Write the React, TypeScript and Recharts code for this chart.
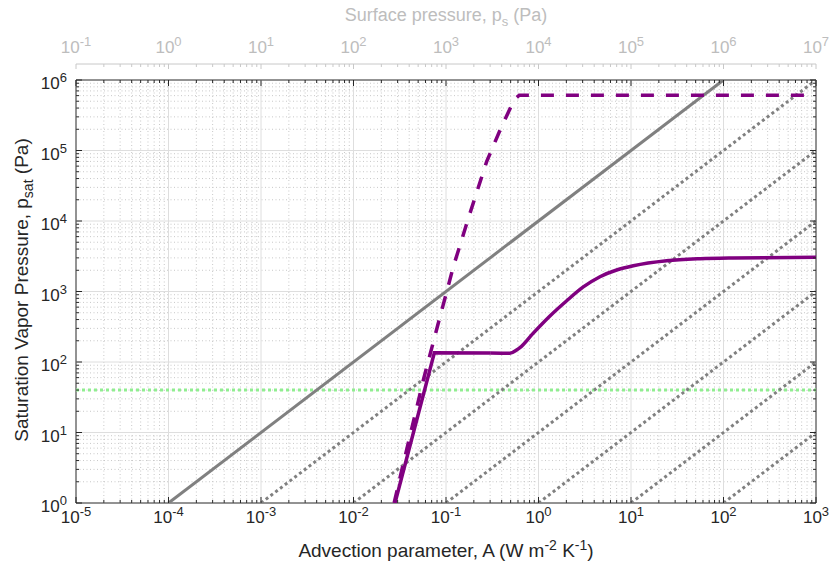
import React from 'react';
import { LineChart, Line, XAxis, YAxis, ReferenceLine, ReferenceArea } from 'recharts';

const FONT = '"Liberation Sans", Arial, Helvetica, sans-serif';
const INK = '#262626';
const PS_LINE = '#c8c8c8';
const PS_INK = '#bdbdbd';
const PURPLE = '#800080';
const GRAY = '#808080';

// plot box (px)
const W = 830;
const H = 564;
const PLOT_LEFT = 76;
const PLOT_TOP = 80;
const PLOT_RIGHT = 816;
const PLOT_BOTTOM = 503;
const LEFT_W = 60;
const RIGHT_W = 14;
const TOP_H = 50;
const BOTTOM_H = 40;
const PS_GAP = 16;

// axes
const majorA = [1e-5, 1e-4, 1e-3, 1e-2, 1e-1, 1, 10, 100, 1000];
const majorP = [1, 10, 100, 1000, 1e4, 1e5, 1e6];
const minorSteps = [2, 3, 4, 5, 6, 7, 8, 9];
const psShift = 4; // surface pressure axis = A * 10^4

// grey reference lines
const solidRefA = [1e-4, 1e2];
const solidRefP = [1, 1e6];
const dotted1A = [1e-3, 1e3];
const dotted1P = [1, 1e6];
const dotted2A = [1e-2, 1e3];
const dotted2P = [1, 1e5];
const dotted3A = [1e-1, 1e3];
const dotted3P = [1, 1e4];
const dotted4A = [1, 1e3];
const dotted4P = [1, 1e3];
const dotted5A = [10, 1e3];
const dotted5P = [1, 1e2];
const dotted6A = [100, 1e3];
const dotted6P = [1, 10];

// green threshold
const greenA = [1e-5, 1e3];
const greenP = [40, 40];

// purple solid: steep rise, then plateau + smooth climb
const steepA = [0.0281, 0.0748, 0.3];
const steepP = [1, 135, 134];
const climbA = [0.3, 0.49, 0.58, 0.63, 0.873, 1.33, 2.02, 3.05, 4.62, 7.0, 10.6, 24.3, 55.7, 126, 1000];
const climbP = [134, 133, 148, 160, 255, 450, 740, 1160, 1622, 2018, 2322, 2734, 2920, 2990, 3050];
// purple dashed
const dashedA = [0.0275, 0.0332, 0.0569, 0.0861, 0.102, 0.12, 0.1815, 0.275, 0.384, 0.513, 0.56, 0.62, 1000];
const dashedP = [1, 2.9, 55.6, 439, 1000, 2250, 12850, 69400, 195000, 440000, 540000, 610000, 610000];

const zip = (a: number[], p: number[]) => a.map((v, i) => ({ a: v, p: p[i] }));
const minorOf = (majors: number[]) => majors.slice(0, -1).flatMap((d) => minorSteps.map((m) => m * d));

const minorA = minorOf(majorA);
const minorP = minorOf(majorP);
const ticksA = [...majorA, ...minorA].sort((x, y) => x - y);
const ticksP = [...majorP, ...minorP].sort((x, y) => x - y);

const expOf = (v: number) => Math.round(Math.log10(v));
const isMajor = (v: number) => Math.abs(Math.log10(v) - expOf(v)) < 1e-6;

const Pow = ({ e }: { e: number }) => (
  <>
    10<tspan dy={-7} fontSize={13}>{e}</tspan>
  </>
);

const BottomTick = (props: any) => {
  const { x, y, payload } = props;
  const v = payload.value;
  const major = isMajor(v);
  return (
    <g>
      <line x1={x} x2={x} y1={y} y2={y - (major ? 6 : 3)} stroke={INK} />
      {major && (
        <text x={x} y={y + 20} textAnchor="middle" fontSize={17} fill={INK} fontFamily={FONT}>
          <Pow e={expOf(v)} />
        </text>
      )}
    </g>
  );
};

const TopTick = (props: any) => {
  const { x, y, payload } = props;
  const v = payload.value;
  const major = isMajor(v);
  const yPs = y - PS_GAP;
  return (
    <g>
      <line x1={x} x2={x} y1={y} y2={y + (major ? 6 : 3)} stroke={INK} />
      <line x1={x} x2={x} y1={yPs} y2={yPs + (major ? 5 : 3)} stroke={PS_LINE} />
      {major && (
        <text x={x} y={yPs - 11} textAnchor="middle" fontSize={17} fill={PS_INK} fontFamily={FONT}>
          <Pow e={expOf(v) + psShift} />
        </text>
      )}
    </g>
  );
};

const LeftTick = (props: any) => {
  const { x, y, payload } = props;
  const v = payload.value;
  const major = isMajor(v);
  return (
    <g>
      <line x1={x} x2={x + (major ? 6 : 3)} y1={y} y2={y} stroke={INK} />
      {major && (
        <text x={x - 9} y={y + 9} textAnchor="end" fontSize={17} fill={INK} fontFamily={FONT}>
          <Pow e={expOf(v)} />
        </text>
      )}
    </g>
  );
};

const RightTick = (props: any) => {
  const { x, y, payload } = props;
  const major = isMajor(payload.value);
  return <line x1={x} x2={x - (major ? 6 : 3)} y1={y} y2={y} stroke={INK} />;
};

const XTitle = () => (
  <text x={(PLOT_LEFT + PLOT_RIGHT) / 2} y={557} textAnchor="middle" fontSize={19} fill={INK} fontFamily={FONT}>
    Advection parameter, A (W m<tspan dy={-7} fontSize={14}>-2</tspan>
    <tspan dy={7}> K</tspan>
    <tspan dy={-7} fontSize={14}>-1</tspan>
    <tspan dy={7}>)</tspan>
  </text>
);

const TopTitle = () => (
  <text x={(PLOT_LEFT + PLOT_RIGHT) / 2} y={21} textAnchor="middle" fontSize={18} fill={PS_INK} fontFamily={FONT}>
    Surface pressure, p<tspan dy={5} fontSize={13}>s</tspan>
    <tspan dy={-5}> (Pa)</tspan>
  </text>
);

const YTitle = () => {
  const cx = 28;
  const cy = 290;
  return (
    <text x={cx} y={cy} transform={`rotate(-90, ${cx}, ${cy})`} textAnchor="middle" fontSize={19} fill={INK} fontFamily={FONT}>
      Saturation Vapor Pressure, p<tspan dy={5} fontSize={14}>sat</tspan>
      <tspan dy={-5}> (Pa)</tspan>
    </text>
  );
};

const ids = { xAxisId: 'bottom', yAxisId: 'left' };
const plain = { dot: false, activeDot: false, isAnimationActive: false } as const;

export default function App() {
  return (
    <div style={{ position: 'absolute', left: 0, top: 0, width: W, height: H, background: '#fff' }}>
      <LineChart
        width={W}
        height={H}
        margin={{
          top: PLOT_TOP - TOP_H,
          left: PLOT_LEFT - LEFT_W,
          right: W - PLOT_RIGHT - RIGHT_W,
          bottom: H - PLOT_BOTTOM - BOTTOM_H,
        }}
      >
        <XAxis
          xAxisId="bottom"
          orientation="bottom"
          dataKey="a"
          type="number"
          scale="log"
          domain={[1e-5, 1e3]}
          allowDataOverflow
          ticks={ticksA}
          interval={0}
          tickSize={0}
          tickMargin={0}
          tickLine={false}
          axisLine={false}
          height={BOTTOM_H}
          tick={<BottomTick />}
          label={<XTitle />}
        />
        <XAxis
          xAxisId="top"
          orientation="top"
          dataKey="a"
          type="number"
          scale="log"
          domain={[1e-5, 1e3]}
          allowDataOverflow
          ticks={ticksA}
          interval={0}
          tickSize={0}
          tickMargin={0}
          tickLine={false}
          axisLine={{ stroke: PS_LINE, transform: `translate(0, -${PS_GAP})` }}
          height={TOP_H}
          tick={<TopTick />}
          label={<TopTitle />}
        />
        <YAxis
          yAxisId="left"
          orientation="left"
          type="number"
          scale="log"
          domain={[1, 1e6]}
          allowDataOverflow
          ticks={ticksP}
          interval={0}
          tickSize={0}
          tickMargin={0}
          tickLine={false}
          axisLine={false}
          width={LEFT_W}
          tick={<LeftTick />}
          label={<YTitle />}
        />
        <YAxis
          yAxisId="right"
          orientation="right"
          type="number"
          scale="log"
          domain={[1, 1e6]}
          allowDataOverflow
          ticks={ticksP}
          interval={0}
          tickSize={0}
          tickMargin={0}
          tickLine={false}
          axisLine={false}
          width={RIGHT_W}
          tick={<RightTick />}
        />

        {/* minor grid */}
        {minorA.map((v) => (
          <ReferenceLine key={`mx${v}`} {...ids} x={v} stroke="#c8c8c8" strokeDasharray="1 2.5" />
        ))}
        {minorP.map((v) => (
          <ReferenceLine key={`my${v}`} {...ids} y={v} stroke="#c8c8c8" strokeDasharray="1 2.5" />
        ))}
        {/* major grid */}
        {majorA.slice(1, -1).map((v) => (
          <ReferenceLine key={`Mx${v}`} {...ids} x={v} stroke="#dedede" />
        ))}
        {majorP.slice(1, -1).map((v) => (
          <ReferenceLine key={`My${v}`} {...ids} y={v} stroke="#dedede" />
        ))}

        <Line {...ids} {...plain} data={zip(greenA, greenP)} dataKey="p" stroke="#90ee90" strokeWidth={3} strokeDasharray="3 3" />
        {[
          zip(dotted1A, dotted1P),
          zip(dotted2A, dotted2P),
          zip(dotted3A, dotted3P),
          zip(dotted4A, dotted4P),
          zip(dotted5A, dotted5P),
          zip(dotted6A, dotted6P),
        ].map((d, i) => (
          <Line key={`dot${i}`} {...ids} {...plain} data={d} dataKey="p" stroke={GRAY} strokeWidth={3} strokeDasharray="3 3" />
        ))}
        <Line {...ids} {...plain} data={zip(solidRefA, solidRefP)} dataKey="p" stroke={GRAY} strokeWidth={3} />
        <Line {...ids} {...plain} data={zip(dashedA, dashedP)} dataKey="p" stroke={PURPLE} strokeWidth={3.5} strokeDasharray="13 12" />
        <Line {...ids} {...plain} data={zip(steepA, steepP)} dataKey="p" stroke={PURPLE} strokeWidth={3.5} />
        <Line {...ids} {...plain} type="monotone" data={zip(climbA, climbP)} dataKey="p" stroke={PURPLE} strokeWidth={3.5} />

        {/* axes box */}
        <ReferenceArea {...ids} x1={1e-5} x2={1e3} y1={1} y2={1e6} fill="none" fillOpacity={0} stroke={INK} strokeWidth={1} />
      </LineChart>
    </div>
  );
}
